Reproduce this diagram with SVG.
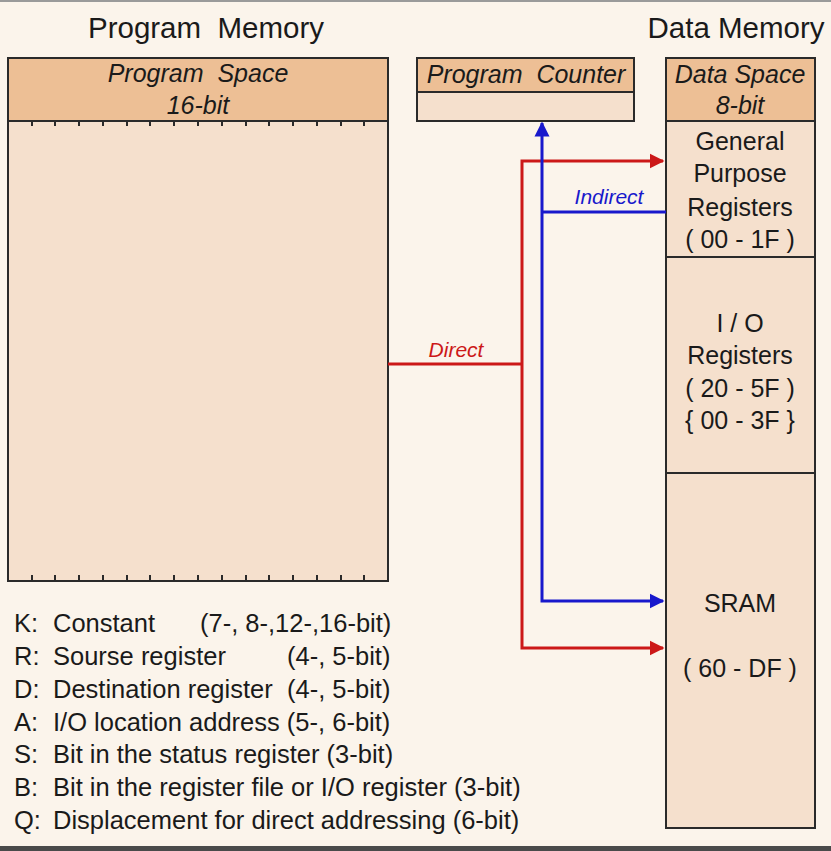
<svg xmlns="http://www.w3.org/2000/svg" width="831" height="851" viewBox="0 0 831 851">
<style>
text{font-family:"Liberation Sans",Arial,sans-serif;fill:#1a1a1a;white-space:pre}
.title{font-size:29.5px}
.hdr{font-size:25px;font-style:italic;text-anchor:middle}
.bx{font-size:25px;text-anchor:middle}
.leg{font-size:25.5px}
.lbl{font-size:21px;font-style:italic;text-anchor:middle}
.head{fill:#EDBF95;stroke:#2a2a2a;stroke-width:2}
.body{fill:#F5E0CD;stroke:#2a2a2a;stroke-width:2}
.tick{stroke:#2a2a2a;stroke-width:2}
.red{stroke:#CC1818;stroke-width:3;fill:none}
.blue{stroke:#1818CC;stroke-width:3;fill:none}
</style>
<defs>
<marker id="ar" viewBox="0 0 10 10" refX="9" refY="5" markerWidth="5" markerHeight="5.3" orient="auto-start-reverse" markerUnits="strokeWidth"><path d="M0,0 L10,5 L0,10 Z" fill="#CC1818"/></marker>
<marker id="ab" viewBox="0 0 10 10" refX="9" refY="5" markerWidth="5" markerHeight="5.3" orient="auto-start-reverse" markerUnits="strokeWidth"><path d="M0,0 L10,5 L0,10 Z" fill="#1818CC"/></marker>
</defs>
<rect x="0" y="0" width="831" height="851" fill="#FBF4EB"/>
<rect x="0" y="0" width="831" height="2" fill="#9a9a9a"/>
<rect x="0" y="846" width="831" height="5" fill="#4a4a4a"/>
<text class="title" x="206" y="38" text-anchor="middle" xml:space="preserve">Program  Memory</text>
<text class="title" x="736" y="38" text-anchor="middle">Data Memory</text>
<g id="program-memory">
<rect class="body" x="8" y="121" width="380" height="460"/>
<rect class="head" x="8" y="58" width="380" height="63"/>
<text class="hdr" x="198" y="82" xml:space="preserve">Program  Space</text>
<text class="hdr" x="198" y="114">16-bit</text>
<path class="tick" d="M32,121v5M55,121v5M79,121v5M103,121v5M127,121v5M150,121v5M174,121v5M198,121v5M222,121v5M246,121v5M269,121v5M293,121v5M317,121v5M341,121v5M364,121v5"/>
<path class="tick" d="M32,581v-6M55,581v-6M79,581v-6M103,581v-6M127,581v-6M150,581v-6M174,581v-6M198,581v-6M222,581v-6M246,581v-6M269,581v-6M293,581v-6M317,581v-6M341,581v-6M364,581v-6"/>
</g>
<g id="program-counter">
<rect class="head" x="417" y="58" width="217" height="34"/>
<rect class="body" x="417" y="92" width="217" height="29"/>
<text class="hdr" x="526" y="83" xml:space="preserve">Program  Counter</text>
</g>
<g id="data-space">
<rect class="head" x="666" y="58" width="149" height="63"/>
<text class="hdr" x="740" y="83">Data Space</text>
<text class="hdr" x="740" y="114">8-bit</text>
</g>
<g id="gpr">
<rect class="body" x="666" y="121" width="149" height="136"/>
<text class="bx" x="740" y="150">General</text>
<text class="bx" x="740" y="182">Purpose</text>
<text class="bx" x="740" y="216">Registers</text>
<text class="bx" x="740" y="248">( 00 - 1F )</text>
</g>
<g id="io-registers">
<rect class="body" x="666" y="257" width="149" height="216"/>
<text class="bx" x="740" y="332">I / O</text>
<text class="bx" x="740" y="364">Registers</text>
<text class="bx" x="740" y="397">( 20 - 5F )</text>
<text class="bx" x="740" y="429">{ 00 - 3F }</text>
</g>
<g id="sram">
<rect class="body" x="666" y="473" width="149" height="355"/>
<text class="bx" x="740" y="612">SRAM</text>
<text class="bx" x="740" y="677">( 60 - DF )</text>
</g>
<g id="connectors">
<path class="red" d="M388,364H522"/>
<path class="red" d="M663,161H522V648H663" marker-start="url(#ar)" marker-end="url(#ar)"/>
<path class="blue" d="M666,212H542"/>
<path class="blue" d="M542,123V601H663" marker-start="url(#ab)" marker-end="url(#ab)"/>
<text class="lbl" x="456" y="357" style="fill:#CC1818">Direct</text>
<text class="lbl" x="609" y="204" style="fill:#1818CC">Indirect</text>
</g>
<g id="legend">
<text class="leg" x="14" y="632">K:</text><text class="leg" x="53" y="632">Constant</text><text class="leg" x="200" y="632">(7-, 8-,12-,16-bit)</text>
<text class="leg" x="14" y="665">R:</text><text class="leg" x="53" y="665">Sourse register</text><text class="leg" x="287" y="665">(4-, 5-bit)</text>
<text class="leg" x="14" y="698">D:</text><text class="leg" x="53" y="698">Destination register</text><text class="leg" x="287" y="698">(4-, 5-bit)</text>
<text class="leg" x="14" y="731">A:</text><text class="leg" x="53" y="731">I/O location address (5-, 6-bit)</text>
<text class="leg" x="14" y="763">S:</text><text class="leg" x="53" y="763">Bit in the status register (3-bit)</text>
<text class="leg" x="14" y="796">B:</text><text class="leg" x="53" y="796">Bit in the register file or I/O register (3-bit)</text>
<text class="leg" x="14" y="829">Q:</text><text class="leg" x="53" y="829">Displacement for direct addressing (6-bit)</text>
</g>
</svg>
